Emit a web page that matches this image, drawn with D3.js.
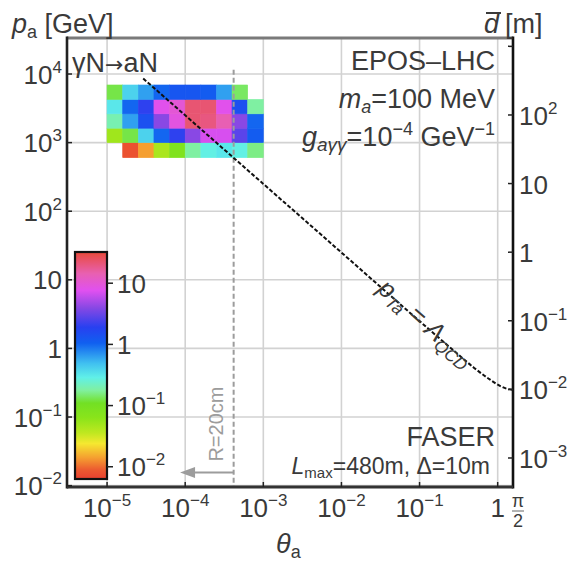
<!DOCTYPE html>
<html><head><meta charset="utf-8">
<script src="https://cdn.jsdelivr.net/npm/d3@7/dist/d3.min.js"></script>
<style>
body{margin:0;background:#fff;}
text{font-family:"Liberation Sans",Arial,Helvetica,sans-serif;fill:#3a3a3a;}
</style></head>
<body>
<svg id="chart" width="577" height="563"></svg>
<script>
// ---------------- data ----------------
const thetaBinEdges = [1e-5, 1.585e-5, 2.512e-5, 3.981e-5, 6.310e-5, 1e-4, 1.585e-4, 2.512e-4, 3.981e-4, 6.310e-4, 1e-3];
const pBinEdges = [603, 1000, 1622, 2630, 4266, 6918];
// rows ordered from low p to high p, columns from low theta to high theta
const cellRow0 = [null, 0.0079, 0.014, 0.045, 0.079, 0.18, 0.28, 0.32, 0.28, 0.16];
const cellRow1 = [0.05, 0.126, 0.4, 1.0, 2.0, 4.0, 7.1, 7.1, 2.8, 1.12];
const cellRow2 = [0.2, 0.63, 1.4, 4.0, 8.9, 22, 20, 14, 4.0, 1.0];
const cellRow3 = [0.32, 1.0, 2.0, 7.9, 10, 22, 22, 7.9, 1.4, 0.18];
const cellRow4 = [0.126, 0.4, 0.63, 1.0, 1.26, 1.26, 1.12, 0.63, 0.14, null];
const cellRows = [cellRow0, cellRow1, cellRow2, cellRow3, cellRow4];
const curveTheta = [2.9e-5, 1e-4, 1e-3, 1e-2, 0.1, 0.3, 0.5, 0.8, 1.1, 1.35, 1.5708];
const curveP = [8600, 2500, 250, 25, 2.5, 0.85, 0.52, 0.35, 0.28, 0.256, 0.25];
const xTickExps = [-5, -4, -3, -2, -1, 0];
const yTickExps = [-2, -1, 0, 1, 2, 3, 4];
const dTickExps = [-3, -2, -1, 0, 1, 2, 3];
const cbTickExps = [-2, -1, 0, 1];
const rCutTheta = 4.17e-4;
const rCutPTop = 11500;
const arrowTheta = [4.17e-4, 8.6e-5];
const arrowP = 0.0155;
const labelCurveTheta = 0.115;
const labelCurveP = 2.2;
// colour map stops: [log10 value, colour]
const cmapLog = [-2.2, -2.05, -1.85, -1.62, -1.45, -1.2, -0.96, -0.75, -0.54, -0.31, 0.02, 0.28, 0.6, 0.88, 1.16, 1.51];
const cmapCol = ["#e84030", "#ec5a30", "#f5a030", "#f5e830", "#c0e820", "#8ae41a", "#72e024", "#80f0a0", "#60f0e8", "#40c0f0", "#1060f0", "#2840f0", "#8848e4", "#e050f0", "#e860b0", "#e84a3a"];

// ---------------- layout ----------------
const L = 67, R = 513, T = 38, B = 487;
const svg = d3.select("#chart");
const x = d3.scaleLog().domain([Math.pow(10, -5.513), Math.PI / 2]).range([L, R]);
const y = d3.scaleLog().domain([Math.pow(10, -2.02), Math.pow(10, 4.525)]).range([B, T]);
const yR = d3.scaleLog().domain([Math.pow(10, -3.423), Math.pow(10, 3.122)]).range([B, T]);
const cbX0 = 75, cbX1 = 107;
const cb = d3.scaleLinear().domain([-2.2, 1.51]).range([479, 252]);
const color = d3.scaleLinear().domain(cmapLog).range(cmapCol).interpolate(d3.interpolateRgb).clamp(true);

function powLabel(t, e, size, sup) {
  if (e === 0) { t.text("1"); return; }
  if (e === 1) { t.text("10"); return; }
  t.append("tspan").text("10");
  t.append("tspan").attr("font-size", sup).attr("dy", -size * 0.42).text(e < 0 ? "\u2212" + (-e) : String(e));
}

// grid
const g = svg.append("g");
xTickExps.forEach(e => {
  g.append("line").attr("x1", x(Math.pow(10, e))).attr("x2", x(Math.pow(10, e)))
    .attr("y1", T).attr("y2", B).attr("stroke", "#d2d2d2").attr("stroke-width", 1.6);
});
yTickExps.forEach(e => {
  g.append("line").attr("x1", L).attr("x2", R)
    .attr("y1", y(Math.pow(10, e))).attr("y2", y(Math.pow(10, e))).attr("stroke", "#d2d2d2").attr("stroke-width", 1.6);
});

// heatmap
cellRows.forEach((row, i) => {
  row.forEach((v, j) => {
    if (v == null) return;
    const x0 = x(thetaBinEdges[j]), x1 = x(thetaBinEdges[j + 1]);
    const y0 = y(pBinEdges[i + 1]), y1 = y(pBinEdges[i]);
    const c = color(Math.log10(v));
    svg.append("rect").attr("x", x0).attr("y", y0).attr("width", x1 - x0).attr("height", y1 - y0)
      .attr("fill", c).attr("stroke", c).attr("stroke-width", 0.6);
  });
});

// R = 20 cm cut
svg.append("line").attr("x1", x(rCutTheta)).attr("x2", x(rCutTheta))
  .attr("y1", y(rCutPTop)).attr("y2", B).attr("stroke", "#9c9c9c").attr("stroke-width", 2).attr("stroke-dasharray", "5,3");
const ay = y(arrowP);
svg.append("line").attr("x1", x(arrowTheta[0])).attr("x2", x(arrowTheta[1]) + 10)
  .attr("y1", ay).attr("y2", ay).attr("stroke", "#9c9c9c").attr("stroke-width", 2);
const ax = x(arrowTheta[1]);
svg.append("path").attr("d", `M${ax},${ay} L${ax + 15},${ay - 5.5} L${ax + 15},${ay + 5.5} Z`).attr("fill", "#9c9c9c");
svg.append("text").attr("transform", `translate(${x(rCutTheta) - 11},${ay - 11}) rotate(-90)`)
  .attr("font-size", 20).style("fill", "#9c9c9c").text("R=20cm");

// curve
const pts = curveTheta.map((t, i) => [x(t), y(curveP[i])]);
svg.append("path").attr("d", d3.line().curve(d3.curveMonotoneX)(pts))
  .attr("fill", "none").attr("stroke", "#111").attr("stroke-width", 2).attr("stroke-dasharray", "4,2");

// curve label
{
  const cx = x(labelCurveTheta), cy = y(labelCurveP);
  const ang = Math.atan2(y(curveP[4]) - y(curveP[2]), x(curveTheta[4]) - x(curveTheta[2])) * 180 / Math.PI;
  const t = svg.append("text").attr("transform", `translate(${cx},${cy}) rotate(${ang})`)
    .attr("text-anchor", "middle").attr("dy", 6).attr("font-size", 26).style("font-style", "italic");
  t.append("tspan").text("p");
  t.append("tspan").attr("font-size", 17).attr("dy", 5).text("Ta");
  t.append("tspan").attr("dy", -5).text(" = \u039B");
  t.append("tspan").attr("font-size", 17).attr("dy", 5).text("QCD");
}

// frame
svg.append("line").attr("x1", L).attr("x2", R).attr("y1", T).attr("y2", T).attr("stroke", "#7a7a7a").attr("stroke-width", 3);
svg.append("line").attr("x1", L).attr("x2", L).attr("y1", T - 1.5).attr("y2", B + 1.5).attr("stroke", "#222").attr("stroke-width", 2.6);
svg.append("line").attr("x1", R).attr("x2", R).attr("y1", T - 1.5).attr("y2", B + 1.5).attr("stroke", "#111").attr("stroke-width", 2.6);
svg.append("line").attr("x1", L).attr("x2", R).attr("y1", B).attr("y2", B).attr("stroke", "#333").attr("stroke-width", 3);

// left axis
yTickExps.forEach(e => {
  const yy = y(Math.pow(10, e));
  svg.append("line").attr("x1", L).attr("x2", L + 5).attr("y1", yy).attr("y2", yy).attr("stroke", "#222").attr("stroke-width", 1.5);
  const t = svg.append("text").attr("x", 62).attr("y", yy + 9.5).attr("text-anchor", "end").attr("font-size", 26);
  powLabel(t, e, 26, 17);
});
// bottom axis
xTickExps.forEach(e => {
  const xx = x(Math.pow(10, e));
  svg.append("line").attr("x1", xx).attr("x2", xx).attr("y1", B).attr("y2", B - 5).attr("stroke", "#222").attr("stroke-width", 1.5);
  const t = svg.append("text").attr("x", xx).attr("y", 517).attr("text-anchor", "middle").attr("font-size", 26);
  powLabel(t, e, 26, 17);
});
// pi/2
{
  const xx = x(Math.PI / 2) + 5;
  svg.append("text").attr("x", xx).attr("y", 507).attr("text-anchor", "middle").attr("font-size", 18).text("\u03C0");
  svg.append("line").attr("x1", xx - 6).attr("x2", xx + 6).attr("y1", 511).attr("y2", 511).attr("stroke", "#666").attr("stroke-width", 1);
  svg.append("text").attr("x", xx).attr("y", 527).attr("text-anchor", "middle").attr("font-size", 18).text("2");
}
// right axis
dTickExps.forEach(e => {
  const yy = yR(Math.pow(10, e));
  svg.append("line").attr("x1", R).attr("x2", R - 5).attr("y1", yy).attr("y2", yy).attr("stroke", "#222").attr("stroke-width", 1.5);
  if (e === 3) return;
  const t = svg.append("text").attr("x", 519).attr("y", yy + 10).attr("font-size", 26);
  powLabel(t, e, 26, 17);
});

// axis titles
{
  const t = svg.append("text").attr("x", 12).attr("y", 33).attr("font-size", 27);
  t.append("tspan").style("font-style", "italic").text("p");
  t.append("tspan").attr("font-size", 18).attr("dy", 5).text("a");
  t.append("tspan").attr("dy", -5).text(" [GeV]");
  const d = svg.append("text").attr("x", 484).attr("y", 33).attr("font-size", 27).style("font-style", "italic").text("d");
  const bb = d.node().getBBox();
  svg.append("line").attr("x1", bb.x + 2).attr("x2", bb.x + bb.width + 1).attr("y1", 13).attr("y2", 13).attr("stroke", "#3a3a3a").attr("stroke-width", 2);
  svg.append("text").attr("x", 505).attr("y", 33).attr("font-size", 27).text("[m]");
  const th = svg.append("text").attr("x", 276).attr("y", 553).attr("font-size", 27);
  th.append("tspan").style("font-style", "italic").text("\u03B8");
  th.append("tspan").attr("font-size", 18).attr("dy", 5).text("a");
}

// annotations
{
  const t = svg.append("text").attr("x", 72).attr("y", 72).attr("font-size", 27);
  t.append("tspan").text("\u03B3N");
  t.append("tspan").style("font-family", "'DejaVu Sans'").attr("font-size", 22).text("\u2192");
  t.append("tspan").text("aN");
}
svg.append("text").attr("x", 495).attr("y", 70).attr("text-anchor", "end").attr("font-size", 27).text("EPOS\u2013LHC");
{
  const t = svg.append("text").attr("x", 495).attr("y", 108).attr("text-anchor", "end").attr("font-size", 27);
  t.append("tspan").style("font-style", "italic").text("m");
  t.append("tspan").attr("font-size", 18).attr("dy", 5).style("font-style", "italic").text("a");
  t.append("tspan").attr("dy", -5).text("=100 MeV");
}
{
  const t = svg.append("text").attr("x", 495).attr("y", 146).attr("text-anchor", "end").attr("font-size", 27);
  t.append("tspan").style("font-style", "italic").text("g");
  t.append("tspan").attr("font-size", 19).attr("dy", 5).style("font-style", "italic").text("a\u03B3\u03B3");
  t.append("tspan").attr("dy", -5).text("=10");
  t.append("tspan").attr("font-size", 18).attr("dy", -11).text("\u22124");
  t.append("tspan").attr("dy", 11).text(" GeV");
  t.append("tspan").attr("font-size", 18).attr("dy", -11).text("\u22121");
}
svg.append("text").attr("x", 495).attr("y", 446).attr("text-anchor", "end").attr("font-size", 27).text("FASER");
{
  const t = svg.append("text").attr("x", 490).attr("y", 474).attr("text-anchor", "end").attr("font-size", 23);
  t.append("tspan").style("font-style", "italic").text("L");
  t.append("tspan").attr("font-size", 15).attr("dy", 4).text("max");
  t.append("tspan").attr("dy", -4).text("=480m, \u0394=10m");
}

// colour bar
{
  const defs = svg.append("defs");
  const grad = defs.append("linearGradient").attr("id", "cbg").attr("x1", 0).attr("y1", 1).attr("x2", 0).attr("y2", 0);
  const span = cmapLog[cmapLog.length - 1] - cmapLog[0];
  cmapLog.forEach((l, i) => {
    grad.append("stop").attr("offset", (l - cmapLog[0]) / span).attr("stop-color", cmapCol[i]);
  });
  svg.append("rect").attr("x", cbX0).attr("y", cb(cmapLog[cmapLog.length - 1])).attr("width", cbX1 - cbX0)
    .attr("height", cb(cmapLog[0]) - cb(cmapLog[cmapLog.length - 1]))
    .attr("fill", "url(#cbg)").attr("stroke", "#111").attr("stroke-width", 2.2);
  cbTickExps.forEach(e => {
    const yy = cb(e);
    svg.append("line").attr("x1", cbX1).attr("x2", cbX1 + 6).attr("y1", yy).attr("y2", yy).attr("stroke", "#222").attr("stroke-width", 1.5);
    const t = svg.append("text").attr("x", cbX1 + 10).attr("y", yy + 9.5).attr("font-size", 26);
    powLabel(t, e, 26, 17);
  });
}
</script>
</body></html>
